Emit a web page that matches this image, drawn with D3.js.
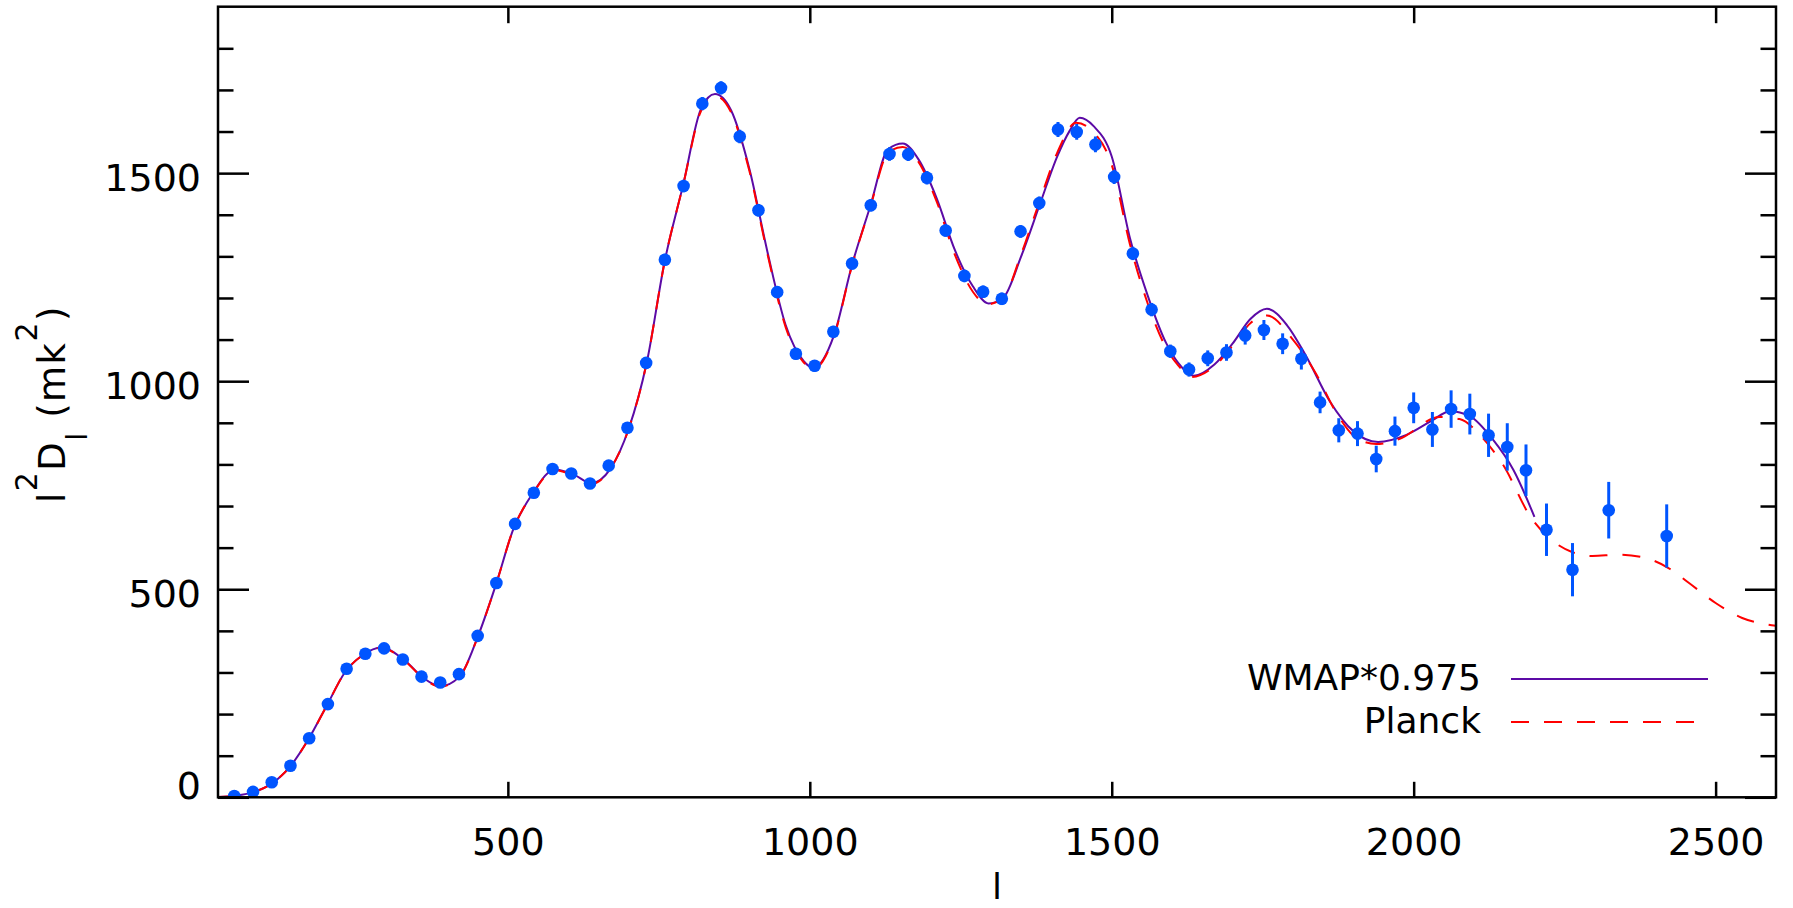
<!DOCTYPE html>
<html>
<head>
<meta charset="utf-8">
<script src="https://cdn.jsdelivr.net/npm/d3@7"></script>
<style>
  html, body { margin: 0; padding: 0; background: #fff; }
  svg { display: block; font-family: "DejaVu Sans", sans-serif; }
</style>
</head>
<body>
<div id="chart"></div>
<script>
// band powers (l, l^2 D_l, error)
const binL = [47, 78, 109, 140, 171, 202, 233, 264, 295, 326, 357, 388, 419, 450, 481, 512, 543, 574, 605, 636,
  667, 698, 729, 760, 791, 822, 853, 884, 915, 946, 977, 1008, 1039, 1070, 1101, 1132, 1163, 1194, 1225, 1256,
  1287, 1318, 1349, 1380, 1411, 1442, 1473, 1504, 1535, 1566, 1597, 1628, 1659, 1690, 1721, 1752, 1783, 1814, 1845, 1876,
  1907, 1938, 1969, 2000, 2031, 2062, 2093, 2124, 2155, 2186, 2220, 2263, 2323, 2419];
const binD = [3, 13, 36, 76, 142, 224, 309, 345, 358, 331, 290, 276, 296, 388, 515, 657, 732, 789, 778, 754,
  797, 888, 1044, 1292, 1469, 1667, 1705, 1588, 1411, 1214, 1066, 1037, 1119, 1283, 1423, 1546, 1545, 1489, 1362, 1253,
  1215, 1198, 1360, 1428, 1605, 1599, 1569, 1491, 1307, 1172, 1072, 1028, 1055, 1069, 1110, 1123, 1090, 1054, 949, 882,
  874, 813, 880, 936, 884, 933, 921, 870, 842, 786, 643, 547, 690, 628];
const binErr = [3, 3, 4, 5, 6, 7, 8, 8, 9, 9, 9, 9, 10, 11, 12, 12, 13, 13, 13, 13,
  13, 13, 14, 14, 15, 16, 16, 16, 15, 14, 14, 14, 14, 15, 15, 16, 16, 16, 15, 15,
  15, 15, 15, 16, 18, 19, 19, 17, 16, 16, 16, 17, 19, 20, 22, 24, 25, 26, 26, 29,
  30, 32, 35, 37, 42, 45, 49, 52, 57, 62, 63, 64, 68, 76];

// model spectra
const wmapL = [20, 50, 80, 110, 140, 170, 200, 230, 260, 290, 330, 360, 388, 420, 450, 480, 510, 540, 578, 610,
  638, 670, 700, 730, 760, 790, 820, 843, 870, 900, 930, 960, 990, 1006, 1040, 1070, 1100, 1130, 1154, 1180,
  1210, 1240, 1270, 1296, 1320, 1350, 1380, 1410, 1430, 1447, 1470, 1500, 1530, 1560, 1590, 1610, 1636, 1670, 1700, 1730,
  1757, 1790, 1822, 1861, 1900, 1941, 1988, 2030, 2060, 2093, 2131, 2165, 2200];
const wmapD = [1, 4, 13, 34, 75, 140, 220, 300, 342, 360, 328, 287, 267, 290, 385, 510, 648, 728, 788, 775,
  755, 790, 885, 1045, 1290, 1470, 1655, 1690, 1650, 1510, 1310, 1135, 1048, 1032, 1110, 1280, 1420, 1558, 1571, 1533,
  1440, 1316, 1228, 1187, 1200, 1300, 1421, 1541, 1601, 1633, 1613, 1540, 1345, 1204, 1092, 1044, 1013, 1040, 1090, 1150,
  1174, 1135, 1060, 952, 880, 854, 871, 905, 928, 916, 860, 787, 674];
const planckL = [20, 50, 80, 110, 140, 170, 200, 230, 260, 290, 330, 360, 388, 420, 450, 480, 510, 540, 578, 610,
  638, 670, 700, 730, 760, 790, 820, 843, 870, 900, 930, 960, 990, 1006, 1040, 1070, 1100, 1130, 1154, 1180,
  1210, 1240, 1270, 1294, 1320, 1350, 1380, 1410, 1441, 1470, 1500, 1530, 1560, 1590, 1610, 1632, 1670, 1700, 1730, 1757,
  1800, 1839, 1872, 1905, 1938, 1976, 2043, 2076, 2112, 2148, 2194, 2235, 2263, 2296, 2340, 2384, 2422, 2456, 2500, 2544,
  2583, 2600];
const planckD = [1, 4, 13, 34, 75, 140, 220, 300, 342, 359, 327, 286, 266, 290, 385, 510, 648, 727, 786, 773,
  753, 790, 885, 1045, 1290, 1470, 1650, 1686, 1645, 1505, 1305, 1130, 1045, 1030, 1108, 1278, 1418, 1550, 1563, 1527,
  1432, 1305, 1215, 1185, 1200, 1305, 1430, 1550, 1621, 1598, 1520, 1330, 1185, 1080, 1038, 1010, 1036, 1085, 1140, 1158,
  1100, 1016, 924, 864, 849, 861, 914, 909, 867, 799, 673, 611, 589, 580, 583, 575, 551, 515, 467, 431,
  416, 412];

const xTicks = [500, 1000, 1500, 2000, 2500];
const yTicks = [0, 500, 1000, 1500];
const yMinorTicks = [100, 200, 300, 400, 600, 700, 800, 900, 1100, 1200, 1300, 1400, 1600, 1700, 1800];
const legendLabels = ["WMAP*0.975", "Planck"];

const width = 1793, height = 908;
const plot = { left: 218, right: 1776, top: 6.7, bottom: 797.3 };
const blue = "#0055ff", purple = "#5c0aa6", red = "#ff0000";
const fontSize = 38;

const x = d3.scaleLinear().domain([20, 2600]).range([plot.left, plot.right]);
const y = d3.scaleLinear().domain([0, 1900]).range([plot.bottom, plot.top]);

const svg = d3.select("#chart").append("svg")
  .attr("width", width)
  .attr("height", height);

svg.append("clipPath").attr("id", "clip")
  .append("rect")
  .attr("x", plot.left).attr("y", plot.top)
  .attr("width", plot.right - plot.left).attr("height", plot.bottom - plot.top);

const line = d3.line()
  .x((d) => x(d[0]))
  .y((d) => y(d[1]))
  .curve(d3.curveMonotoneX);

const wmap = wmapL.map((l, i) => [l, wmapD[i]]);
const planck = planckL.map((l, i) => [l, planckD[i]]);
const bins = binL.map((l, i) => ({ l: l, d: binD[i], e: binErr[i] }));

const curves = svg.append("g").attr("clip-path", "url(#clip)");

curves.append("path")
  .datum(wmap)
  .attr("d", line)
  .attr("fill", "none")
  .attr("stroke", purple)
  .attr("stroke-width", 2);

curves.append("path")
  .datum(planck)
  .attr("d", line)
  .attr("fill", "none")
  .attr("stroke", red)
  .attr("stroke-width", 2)
  .attr("stroke-dasharray", "18,15");

// error bars, then points on top
const pts = svg.append("g").attr("clip-path", "url(#clip)");

pts.selectAll("line")
  .data(bins)
  .join("line")
  .attr("x1", (d) => x(d.l))
  .attr("x2", (d) => x(d.l))
  .attr("y1", (d) => y(d.d - d.e))
  .attr("y2", (d) => y(d.d + d.e))
  .attr("stroke", blue)
  .attr("stroke-width", 3);

pts.selectAll("circle")
  .data(bins)
  .join("circle")
  .attr("cx", (d) => x(d.l))
  .attr("cy", (d) => y(d.d))
  .attr("r", 6.3)
  .attr("fill", blue);

// axes: ticks point inward on all four sides
function styleAxis(g) {
  g.select(".domain").remove();
  g.selectAll(".tick line").attr("stroke", "#000").attr("stroke-width", 2.5);
  g.selectAll(".tick text")
    .attr("fill", "#000")
    .style("font-size", fontSize + "px")
    .style("font-family", "DejaVu Sans, sans-serif");
}

svg.append("g")
  .attr("transform", `translate(0,${plot.bottom})`)
  .call(d3.axisBottom(x).tickValues(xTicks).tickSize(-15.5).tickPadding(31).tickFormat(d3.format("d")))
  .call(styleAxis);

svg.append("g")
  .attr("transform", `translate(0,${plot.top})`)
  .call(d3.axisTop(x).tickValues(xTicks).tickSize(-16.5).tickFormat(""))
  .call(styleAxis);

const yLeft = svg.append("g")
  .attr("transform", `translate(${plot.left},0)`)
  .call(d3.axisLeft(y).tickValues(yTicks).tickSize(-31).tickPadding(17).tickFormat(d3.format("d")))
  .call(styleAxis);

// labels sit a bit below their tick; the zero is lifted clear of the bottom axis
yLeft.selectAll(".tick text")
  .attr("dy", (d) => (d === 0 ? "0.02em" : "0.45em"));

svg.append("g")
  .attr("transform", `translate(${plot.left},0)`)
  .call(d3.axisLeft(y).tickValues(yMinorTicks).tickSize(-15.5).tickFormat(""))
  .call(styleAxis);

svg.append("g")
  .attr("transform", `translate(${plot.right},0)`)
  .call(d3.axisRight(y).tickValues(yTicks).tickSize(-31).tickFormat(""))
  .call(styleAxis);

svg.append("g")
  .attr("transform", `translate(${plot.right},0)`)
  .call(d3.axisRight(y).tickValues(yMinorTicks).tickSize(-15.5).tickFormat(""))
  .call(styleAxis);

svg.append("rect")
  .attr("x", plot.left)
  .attr("y", plot.top)
  .attr("width", plot.right - plot.left)
  .attr("height", plot.bottom - plot.top)
  .attr("fill", "none")
  .attr("stroke", "#000")
  .attr("stroke-width", 2.5);

// axis titles
svg.append("text")
  .attr("x", (plot.left + plot.right) / 2)
  .attr("y", 899)
  .attr("text-anchor", "middle")
  .style("font-size", "36px")
  .text("l");

const yTitle = svg.append("text")
  .attr("transform", "translate(65,404) rotate(-90)")
  .attr("text-anchor", "middle")
  .style("font-size", "37px")
  .style("letter-spacing", "1.5px");
yTitle.append("tspan").text("l");
yTitle.append("tspan").attr("dy", -28).style("font-size", "30px").text("2");
yTitle.append("tspan").attr("dy", 28).text("D");
yTitle.append("tspan").attr("dy", 22).style("font-size", "29px").text("l");
yTitle.append("tspan").attr("dy", -22).text("\u00a0(mk");
yTitle.append("tspan").attr("dy", -28).style("font-size", "30px").text("2");
yTitle.append("tspan").attr("dy", 28).text(")");

// legend
const legend = svg.append("g");
const legendRows = [
  { label: legendLabels[0], color: purple, dash: null, ty: 690, ly: 679, x2: 1708 },
  { label: legendLabels[1], color: red, dash: "18,15", ty: 733, ly: 722, x2: 1701 },
];
legendRows.forEach((r) => {
  legend.append("text")
    .attr("x", 1481)
    .attr("y", r.ty)
    .attr("text-anchor", "end")
    .style("font-size", "36px")
    .text(r.label);
  legend.append("line")
    .attr("x1", 1511).attr("x2", r.x2)
    .attr("y1", r.ly).attr("y2", r.ly)
    .attr("stroke", r.color)
    .attr("stroke-width", 2)
    .attr("stroke-dasharray", r.dash);
});
</script>
</body>
</html>
